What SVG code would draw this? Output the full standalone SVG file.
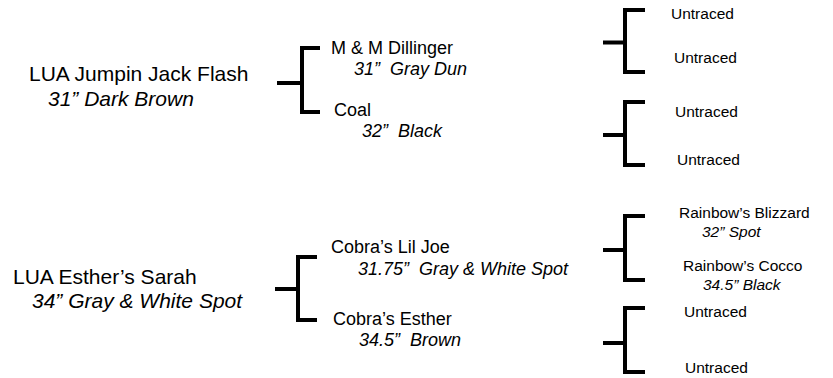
<svg xmlns="http://www.w3.org/2000/svg" width="833" height="378" viewBox="0 0 833 378">
<style>
text{font-family:"Liberation Sans",Arial,sans-serif;fill:#000;white-space:pre}
.n1{font-size:21px}
.n2{font-size:18px}
.n3{font-size:15.5px}
.i{font-style:italic}
.br{fill:none;stroke:#000;stroke-width:4;stroke-linejoin:miter;stroke-linecap:butt}
</style>
<rect width="833" height="378" fill="#fff"/>
<g id="connectors">
<path class="br" d="M277 83H302M320 48H302V112H320"/>
<path class="br" d="M603 42.5H625M645 10H625V72H645"/>
<path class="br" d="M603 135H625M645 102H625V165H645"/>
<path class="br" d="M275 289H298M317 257H298V320H317"/>
<path class="br" d="M603 250H625M645 216H625V280H645"/>
<path class="br" d="M603 343H625M645 308H625V372H645"/>
</g>
<g id="jjf"><text class="n1" x="29" y="81">LUA Jumpin Jack Flash</text><text class="n1 i" x="48" y="106">31” Dark Brown</text></g>
<g id="dillinger"><text class="n2" x="331" y="54">M &amp; M Dillinger</text><text class="n2 i" x="354" y="75">31”  Gray Dun</text></g>
<g id="coal"><text class="n2" x="334" y="116">Coal</text><text class="n2 i" x="362" y="137">32”  Black</text></g>
<g id="u1"><text class="n3" x="671" y="19">Untraced</text></g>
<g id="u2"><text class="n3" x="674" y="63">Untraced</text></g>
<g id="u3"><text class="n3" x="675" y="117">Untraced</text></g>
<g id="u4"><text class="n3" x="677" y="165">Untraced</text></g>
<g id="sarah"><text class="n1" x="13" y="284">LUA Esther’s Sarah</text><text class="n1 i" x="32" y="308">34” Gray &amp; White Spot</text></g>
<g id="liljoe"><text class="n2" x="331" y="253">Cobra’s Lil Joe</text><text class="n2 i" x="358" y="275">31.75”  Gray &amp; White Spot</text></g>
<g id="esther"><text class="n2" x="333" y="325">Cobra’s Esther</text><text class="n2 i" x="359" y="346">34.5”  Brown</text></g>
<g id="blizzard"><text class="n3" x="679" y="218">Rainbow’s Blizzard</text><text class="n3 i" x="702" y="237">32” Spot</text></g>
<g id="cocco"><text class="n3" x="683" y="271">Rainbow’s Cocco</text><text class="n3 i" x="703" y="290">34.5” Black</text></g>
<g id="u5"><text class="n3" x="684" y="317">Untraced</text></g>
<g id="u6"><text class="n3" x="685" y="373">Untraced</text></g>
</svg>
